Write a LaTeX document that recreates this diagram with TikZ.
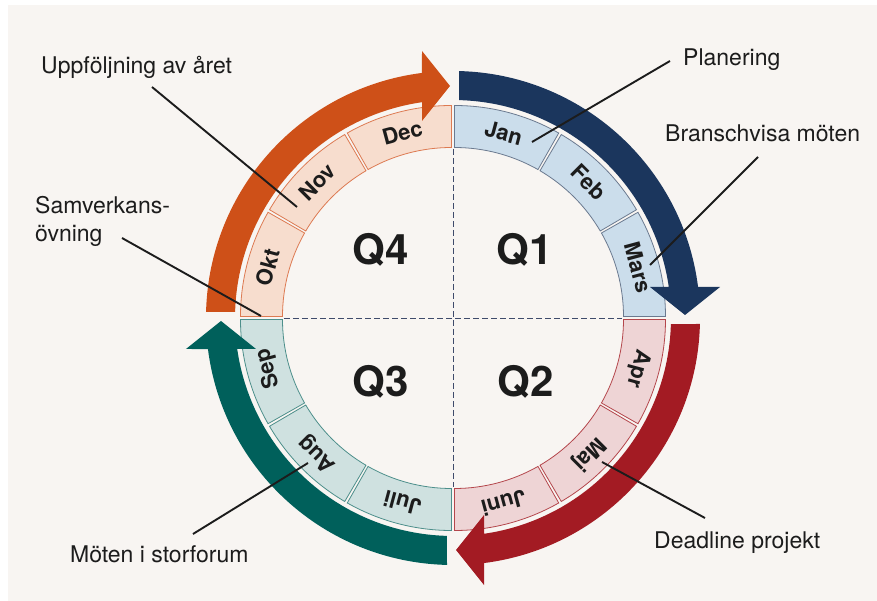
\documentclass[tikz,border=0pt]{standalone}
\usepackage{fontspec}
\setmainfont{TeX Gyre Heros}
\definecolor{paper}{HTML}{F8F5F2}
\definecolor{ink}{HTML}{1C1C1C}
\definecolor{axisblue}{HTML}{3F4B6B}
\definecolor{navy}{HTML}{1B365D}
\definecolor{wine}{HTML}{A31B23}
\definecolor{pine}{HTML}{00605B}
\definecolor{rust}{HTML}{CE5018}
\definecolor{qonefill}{HTML}{CBDDEB}
\definecolor{qoneedge}{HTML}{6B7A90}
\definecolor{qtwofill}{HTML}{EED4D5}
\definecolor{qtwoedge}{HTML}{B4464C}
\definecolor{qthreefill}{HTML}{CFE1E0}
\definecolor{qthreeedge}{HTML}{4D8F8B}
\definecolor{qfourfill}{HTML}{F7DDCE}
\definecolor{qfouredge}{HTML}{DD7A52}

% one month cell of the ring: start angle, end angle, style
\newcommand\ringseg[3]{%
  \path[#3] (#1:211pt) arc[start angle=#1, end angle=#2, radius=211pt]
    -- (#2:169pt) arc[start angle=#2, end angle=#1, radius=169pt] -- cycle;}

% quarter arrow drawn in the first-quarter frame, then rotated
\newcommand\yeararrow[2]{%
  \begin{scope}[rotate=#1]
    \fill[#2] (6,246.93) arc[start angle=88.61, end angle=7.21, radius=247pt]
      -- (267,31) -- (232,3) -- (197,31) -- (215.79,31)
      arc[start angle=8.18, end angle=88.42, radius=218pt] -- cycle;
  \end{scope}}

\begin{document}
\begin{tikzpicture}[x=1pt,y=1pt,
  cellone/.style={fill=qonefill, draw=qoneedge, line width=0.8pt},
  celltwo/.style={fill=qtwofill, draw=qtwoedge, line width=0.8pt},
  cellthree/.style={fill=qthreefill, draw=qthreeedge, line width=0.8pt},
  cellfour/.style={fill=qfourfill, draw=qfouredge, line width=0.8pt},
  month/.style={font=\fontsize{22}{22}\selectfont\bfseries, text=ink, inner sep=0pt},
  quarter/.style={font=\fontsize{42}{42}\selectfont\bfseries, text=ink, inner sep=0pt},
  note/.style={font=\fontsize{23}{23}\selectfont, text=ink, anchor=base west, inner sep=0pt},
  leader/.style={draw=ink, line width=1.9pt},
  axisline/.style={draw=axisblue, line width=0.8pt, dash pattern=on 6pt off 3pt}]

\useasboundingbox (-453,-283) rectangle (424,318);
\fill[paper] (-445,-283) rectangle (424,313);

% quarter 1
\begin{scope}[shift={(1.5,1.5)}]
  \ringseg{60.4}{90}{cellone}
  \ringseg{30.4}{59.6}{cellone}
  \ringseg{0}{29.6}{cellone}
  \node[month, rotate=-15] (jan) at (75:190pt) {Jan};
  \node[month, rotate=-45] (feb) at (45:190pt) {Feb};
  \node[month, rotate=-75] (mar) at (15:190pt) {Mars};
\end{scope}
% quarter 2
\begin{scope}[shift={(1.5,-1.5)}]
  \ringseg{-29.6}{0}{celltwo}
  \ringseg{-59.6}{-30.4}{celltwo}
  \ringseg{-90}{-60.4}{celltwo}
  \node[month, rotate=-105] (apr) at (-15:190pt) {Apr};
  \node[month, rotate=-135] (maj) at (-45:190pt) {Maj};
  \node[month, rotate=-165] (jun) at (-75:190pt) {Juni};
\end{scope}
% quarter 3
\begin{scope}[shift={(-1.5,-1.5)}]
  \ringseg{-119.6}{-90}{cellthree}
  \ringseg{-149.6}{-120.4}{cellthree}
  \ringseg{-180}{-150.4}{cellthree}
  \node[month, rotate=165] (jul) at (-105:190pt) {Juli};
  \node[month, rotate=135] (aug) at (-135:190pt) {Aug};
  \node[month, rotate=105] (sep) at (-165:190pt) {Sep};
\end{scope}
% quarter 4
\begin{scope}[shift={(-1.5,1.5)}]
  \ringseg{150.4}{180}{cellfour}
  \ringseg{120.4}{149.6}{cellfour}
  \ringseg{90}{119.6}{cellfour}
  \node[month, rotate=75] (okt) at (165:190pt) {Okt};
  \node[month, rotate=45] (nov) at (135:190pt) {Nov};
  \node[month, rotate=15] (dec) at (105:190pt) {Dec};
\end{scope}

% quarter axes
\coordinate (axw) at (-169,0);
\coordinate (axe) at (169,0);
\coordinate (axn) at (0,169);
\coordinate (axs) at (0,-169);
\draw[axisline] (axw) -- (axe);
\draw[axisline] (axn) -- (axs);

% arrows around the ring
\yeararrow{0}{navy}
\yeararrow{-90}{wine}
\yeararrow{-180}{pine}
\yeararrow{-270}{rust}

% quarter names
\node[quarter] (q4) at (-72,68) {Q4};
\node[quarter] (q1) at (72,68) {Q1};
\node[quarter] (q3) at (-72,-64) {Q3};
\node[quarter] (q2) at (73,-64) {Q2};

% notes
\node[note] (uppf) at (-412,244) {Uppföljning av året};
\node[note] (samv) at (-418,104) {Samverkans-};
\node[note] (samvb) at (-418,76) {övning};
\node[note] (plan) at (230,252) {Planering};
\node[note] (bran) at (212,176) {Branschvisa möten};
\node[note] (dead) at (201,-230) {Deadline projekt};
\node[note] (mote) at (-383,-244) {Möten i storforum};

% leader ends
\coordinate (uppf-a) at (-301,231);  \coordinate (uppf-b) at (-156,111);
\coordinate (samv-a) at (-331,80);   \coordinate (samv-b) at (-192,2);
\coordinate (plan-a) at (217,257);   \coordinate (plan-b) at (79,176);
\coordinate (bran-a) at (305,161);   \coordinate (bran-b) at (197,53);
\coordinate (dead-a) at (252,-200);  \coordinate (dead-b) at (149,-144);
\coordinate (mote-a) at (-260,-216); \coordinate (mote-b) at (-145,-145);
\draw[leader] (uppf-a) -- (uppf-b);
\draw[leader] (samv-a) -- (samv-b);
\draw[leader] (plan-a) -- (plan-b);
\draw[leader] (bran-a) -- (bran-b);
\draw[leader] (dead-a) -- (dead-b);
\draw[leader] (mote-a) -- (mote-b);
\end{tikzpicture}
\end{document}
